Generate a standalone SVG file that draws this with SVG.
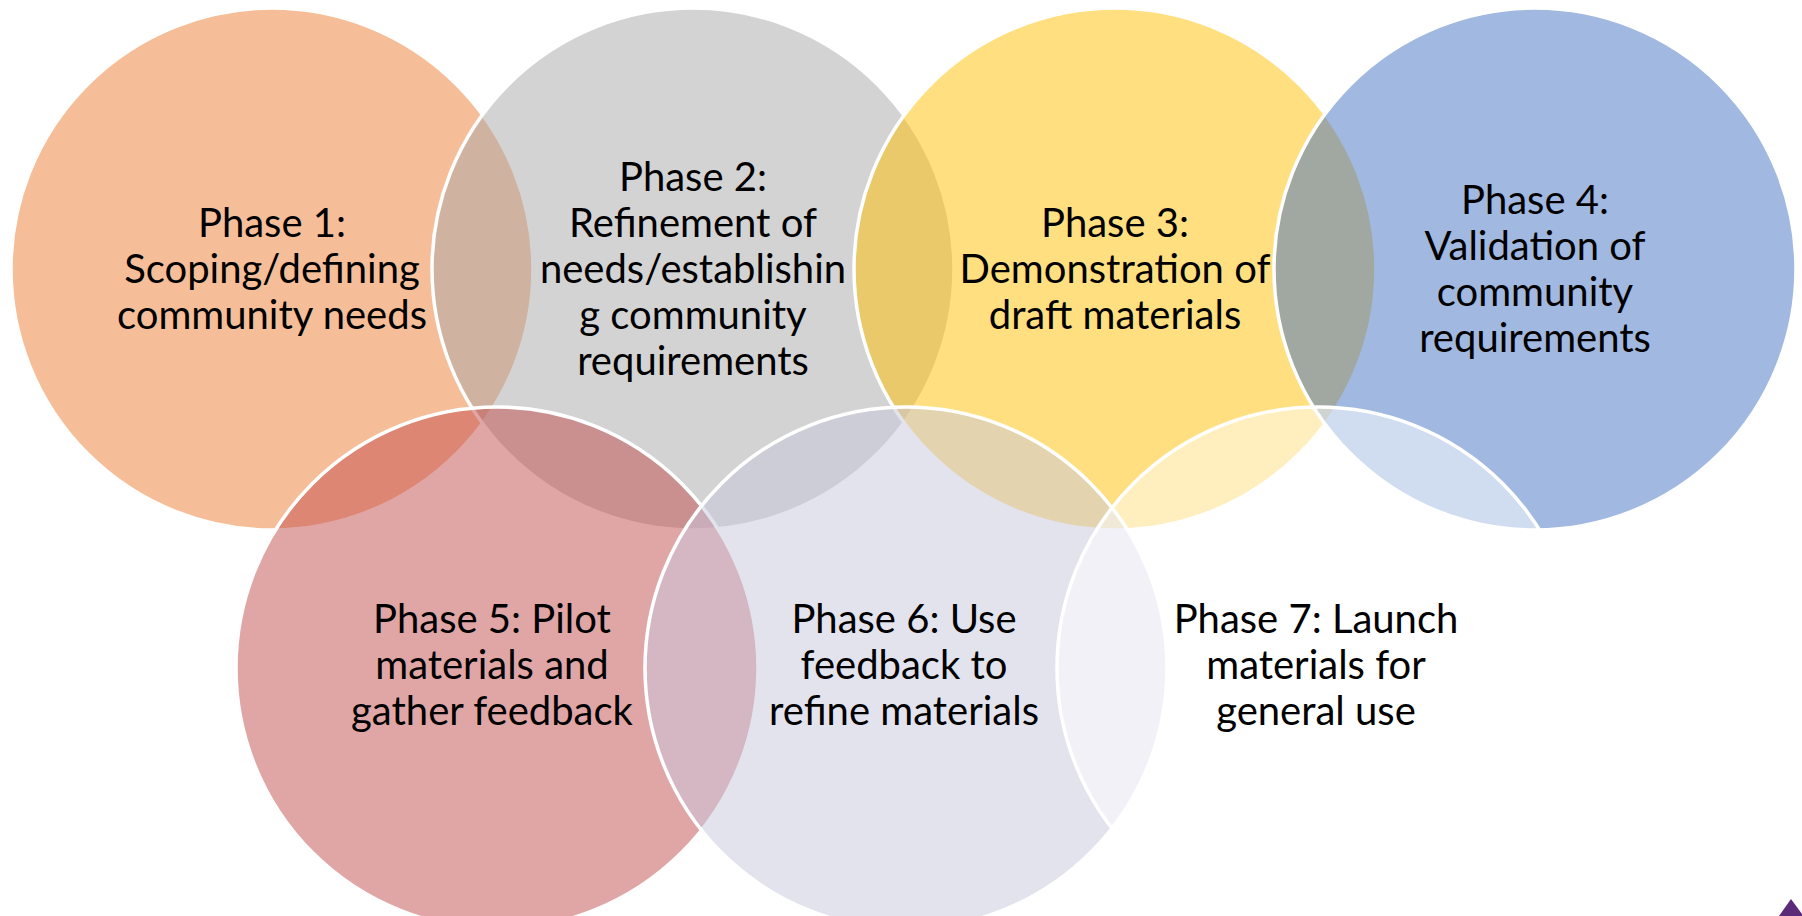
<svg xmlns="http://www.w3.org/2000/svg" width="1802" height="916" viewBox="0 0 1802 916">
<style>
.c{fill-opacity:0.5;stroke:#ffffff;stroke-width:3.5}
.t{font-family:Lato,'Liberation Sans',sans-serif;font-size:40px;fill:#000000;text-anchor:middle}
</style>
<rect width="1802" height="916" fill="#ffffff"/>
<g id="phase1">
<circle class="c" cx="272" cy="269" r="261" fill="#ED7D31"/>
<text class="t"><tspan x="272" y="237">Phase 1:</tspan><tspan x="272" y="283">Scoping/defining</tspan><tspan x="272" y="329">community needs</tspan></text>
</g>
<g id="phase2">
<circle class="c" cx="693" cy="269" r="261" fill="#A7A7A7"/>
<text class="t"><tspan x="693" y="191">Phase 2:</tspan><tspan x="693" y="237">Refinement of</tspan><tspan x="693" y="283">needs/establishin</tspan><tspan x="693" y="329">g community</tspan><tspan x="693" y="375">requirements</tspan></text>
</g>
<g id="phase3">
<circle class="c" cx="1115" cy="269" r="261" fill="#FFC000"/>
<text class="t"><tspan x="1115" y="237">Phase 3:</tspan><tspan x="1115" y="283">Demonstration of</tspan><tspan x="1115" y="329">draft materials</tspan></text>
</g>
<g id="phase4">
<circle class="c" cx="1535" cy="269" r="261" fill="#4472C4"/>
<text class="t"><tspan x="1535" y="214">Phase 4:</tspan><tspan x="1535" y="260">Validation of</tspan><tspan x="1535" y="306">community</tspan><tspan x="1535" y="352">requirements</tspan></text>
</g>
<g id="phase5">
<circle class="c" cx="497" cy="668" r="261" fill="#C14D4D"/>
<text class="t"><tspan x="492" y="633">Phase 5: Pilot</tspan><tspan x="492" y="679">materials and</tspan><tspan x="492" y="725">gather feedback</tspan></text>
</g>
<g id="phase6">
<circle class="c" cx="906" cy="668" r="261" fill="#C8C7DE"/>
<text class="t"><tspan x="904" y="633">Phase 6: Use</tspan><tspan x="904" y="679">feedback to</tspan><tspan x="904" y="725">refine materials</tspan></text>
</g>
<g id="phase7">
<circle class="c" cx="1318" cy="668" r="261" fill="#FFFFFF"/>
<text class="t"><tspan x="1316" y="633">Phase 7: Launch</tspan><tspan x="1316" y="679">materials for</tspan><tspan x="1316" y="725">general use</tspan></text>
</g>
<g id="connectors"></g>
<polygon points="1779,916 1791,899 1802,914 1802,916" fill="#5B2A78"/>
</svg>
